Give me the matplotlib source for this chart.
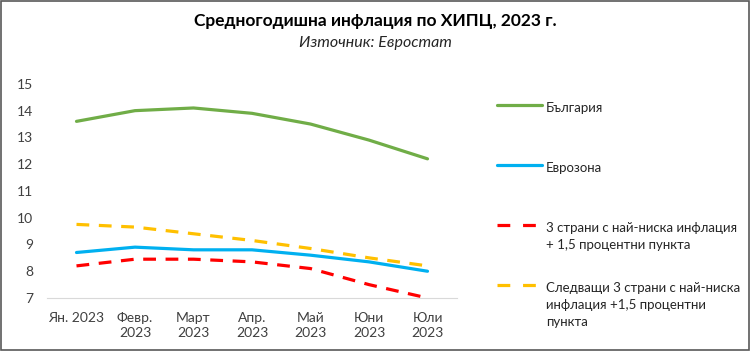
import matplotlib
matplotlib.use('Agg')
import matplotlib.pyplot as plt
from matplotlib.lines import Line2D
from matplotlib.patches import Rectangle

plt.rcParams['font.family'] = ['Lato', 'DejaVu Sans']

months = ['Ян. 2023', 'Февр.\n2023', 'Март\n2023', 'Апр.\n2023', 'Май\n2023', 'Юни\n2023', 'Юли\n2023']
bulgaria = [13.6, 14.0, 14.1, 13.9, 13.5, 12.9, 12.2]
eurozone = [8.7, 8.9, 8.8, 8.8, 8.6, 8.35, 8.0]
lowest3 = [8.2, 8.45, 8.45, 8.35, 8.1, 7.5, 7.0]
next3 = [9.75, 9.65, 9.4, 9.15, 8.85, 8.5, 8.2]

labels = ['България', 'Еврозона',
          '3 страни с най-ниска инфлация\n+ 1,5 процентни пункта',
          'Следващи 3 страни с най-ниска\nинфлация +1,5 процентни\nпункта']

W, H = 750, 351
fig = plt.figure(figsize=(7.5, 3.51), dpi=100)
ax = fig.add_axes([0.063, 0.151, 0.546, 0.610])

x = range(len(months))
lines = []
lines += ax.plot(x, bulgaria, color='#70ad47', lw=2.3, solid_capstyle='round')
lines += ax.plot(x, eurozone, color='#00b0f0', lw=2.3, solid_capstyle='round')
lines += ax.plot(x, lowest3, color='#ff0000', lw=2.3, dashes=(4, 3))
lines += ax.plot(x, next3, color='#ffc000', lw=2.3, dashes=(4, 3))

ax.set_xlim(-0.5, len(months) - 0.5)
ax.set_ylim(7, 15)
ax.set_yticks(range(7, 16))
ax.set_xticks(list(x))
ax.set_xticklabels(months, fontsize=10, color='#404040', linespacing=1.35)
ax.tick_params(axis='y', labelsize=10, colors='#404040', length=0, pad=10)
ax.tick_params(axis='x', length=0, pad=10)
for s in ['top', 'right', 'left']:
    ax.spines[s].set_visible(False)
ax.spines['bottom'].set_color('#d9d9d9')

# legend laid out by hand, handle level with the first text line (like Excel)
leg_rows = [105, 165, 225, 285]
for ln, lab, yp in zip(lines, labels, leg_rows):
    yf = 1 - yp / H
    h = Line2D([497 / W, 542 / W], [yf, yf], transform=fig.transFigure,
               color=ln.get_color(), lw=ln.get_linewidth(),
               linestyle=ln.get_linestyle(), solid_capstyle='round')
    if ln.get_linestyle() != '-':
        h.set_dashes((4, 4))
    fig.add_artist(h)
    fig.text(546 / W, 1 - (yp - 3) / H, lab, ha='left', va='top',
             fontsize=9.5, color='#262626', linespacing=1.5)

fig.text(0.5, 1 - 21 / H, 'Средногодишна инфлация по ХИПЦ, 2023 г.', ha='center', va='center',
         fontsize=12.5, fontweight='bold', color='#000000')
fig.text(0.5, 1 - 43 / H, 'Източник: Евростат', ha='center', va='center',
         fontsize=11.5, style='italic', color='#262626')

fig.patches.append(Rectangle((0.001, 0.002), 0.997, 0.995, transform=fig.transFigure,
                             fill=False, edgecolor='#595959', lw=1.2))

fig.savefig('out.png', dpi=100)
